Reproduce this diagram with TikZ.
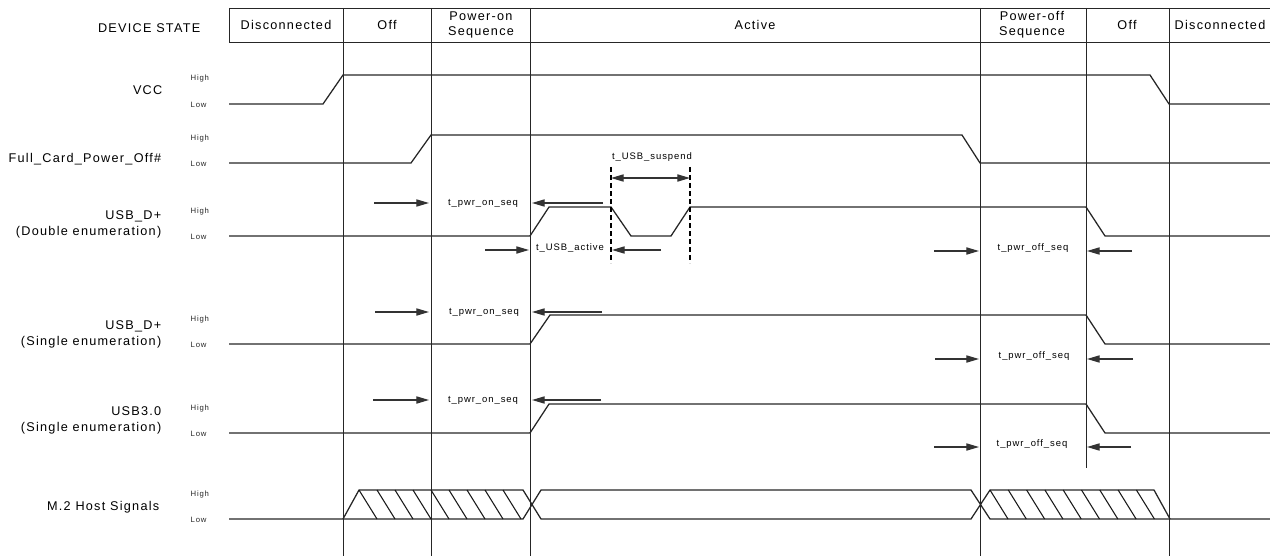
\documentclass[tikz,border=0pt]{standalone}
\usepackage{fontspec}
\setmainfont{Liberation Sans}[LetterSpace=10]
\usetikzlibrary{arrows.meta}

\tikzset{
  grid line/.style={line width=0.7pt, black!85},
  signal/.style={line width=0.95pt, black!85},
  hatch/.style={line width=0.8pt, black!90},
  timing/.style={line width=0.9pt, black!80, -{Triangle[length=9.5pt,width=5.4pt]}},
  both timing/.style={line width=0.9pt, black!80, {Triangle[length=9.5pt,width=5.4pt]}-{Triangle[length=9.5pt,width=5.4pt]}},
  limit/.style={line width=1.1pt, dash pattern=on 4pt off 2pt},
  state text/.style={font=\fontsize{9.5}{11.25}\selectfont, align=center},
  sig label/.style={font=\fontsize{9.5}{12}\selectfont, align=right, anchor=east},
  level/.style={font=\fontsize{5.8}{7}\selectfont, anchor=west, text=black!85},
  tlabel/.style={font=\fontsize{7.1}{8}\selectfont},
}

\begin{document}
\begin{tikzpicture}[x=0.75pt, y=-0.75pt]
    \useasboundingbox (0,0) rectangle (1270,556);

    % state header and boundaries
    \draw[grid line] (229,8) -- (1271,8);
    \draw[grid line] (229,42) -- (1271,42);
    \draw[grid line] (229,8) -- (229,42);
    \foreach \bx in {343,431,530,980,1169}
        \draw[grid line] (\bx,8) -- (\bx,556);
    \draw[grid line] (1086,8) -- (1086,468);

    \node[state text, anchor=east] (devstate) at (205,28) {DEVICE STATE};
    \node[state text] (disc1) at (286,25) {Disconnected};
    \node[state text] (off1) at (387,25) {Off};
    \node[state text] (pwron) at (481,25) {Power-on\\Sequence};
    \node[state text] (active) at (755,25) {Active};
    \node[state text] (pwroff) at (1032,25) {Power-off\\Sequence};
    \node[state text] (off2) at (1127,25) {Off};
    \node[state text] (disc2) at (1220,25) {Disconnected};

    % signal names
    \node[sig label] (vcc) at (167,90) {VCC};
    \node[sig label] (fcpo) at (166,159) {Full\_Card\_Power\_Off\#};
    \node[sig label] (usbdd) at (166,224) {USB\_D+\\(Double enumeration)};
    \node[sig label] (usbds) at (166,334) {USB\_D+\\(Single enumeration)};
    \node[sig label] (usb3) at (166,420) {USB3.0\\(Single enumeration)};
    \node[sig label] (m2) at (164,507) {M.2 Host Signals};

    % high / low marks
    \foreach \hy/\ly in {75/104,135/163,207/236,315/344,404/433,490/519} {
        \node[level] (hi-\hy) at (186,\hy+4) {High};
        \node[level] (lo-\ly) at (186,\ly+1) {Low};
    }

    % waveforms
    \draw[signal] (229,104) -- (323,104) -- (343,75) -- (1150,75) -- (1169,104) -- (1270,104);
    \draw[signal] (229,163) -- (411,163) -- (431,135) -- (962,135) -- (980,163) -- (1270,163);
    \draw[signal] (229,236) -- (530,236) -- (549,207) -- (611,207) -- (631,236) -- (671,236)
        -- (690,207) -- (1086,207) -- (1105,236) -- (1270,236);
    \draw[signal] (229,344) -- (530,344) -- (550,315) -- (1086,315) -- (1105,344) -- (1270,344);
    \draw[signal] (229,433) -- (530,433) -- (549,404) -- (1086,404) -- (1105,433) -- (1270,433);

    % M.2 host signals, hatched where undefined
    \draw[signal] (229,519) -- (343,519) -- (359,490) -- (523,490) -- (541,519) -- (971,519)
        -- (990,490) -- (1154,490) -- (1170,519) -- (1270,519);
    \draw[signal] (343,519) -- (523,519) -- (541,490) -- (971,490) -- (990,519) -- (1170,519);
    \foreach \hx in {359,377,...,503}
        \draw[hatch] (\hx,490) -- (\hx+18,519);
    \foreach \hx in {990,1008.3,...,1138}
        \draw[hatch] (\hx,490) -- (\hx+18,519);

    % suspend window
    \draw[limit] (611,167) -- (611,263);
    \draw[limit] (690,167) -- (690,263);
    \node[tlabel] (tsus) at (652,157) {t\_USB\_suspend};
    \draw[both timing] (611,178) -- (690,178);

    % timing arrows, double enumeration
    \node[tlabel] (ton1) at (483,203) {t\_pwr\_on\_seq};
    \draw[timing] (374,203) -- (429,203);
    \draw[timing] (603,203) -- (532,203);
    \node[tlabel] (tact) at (570,248) {t\_USB\_active};
    \draw[timing] (485,250) -- (529,250);
    \draw[timing] (661,250) -- (612,250);
    \node[tlabel] (toff1) at (1033,248) {t\_pwr\_off\_seq};
    \draw[timing] (934,251) -- (979,251);
    \draw[timing] (1132,251) -- (1087,251);

    % timing arrows, single enumeration
    \node[tlabel] (ton2) at (484,312) {t\_pwr\_on\_seq};
    \draw[timing] (375,312) -- (429,312);
    \draw[timing] (602,312) -- (532,312);
    \node[tlabel] (toff2) at (1034,356) {t\_pwr\_off\_seq};
    \draw[timing] (935,359) -- (979,359);
    \draw[timing] (1133,359) -- (1087,359);

    % timing arrows, USB3.0
    \node[tlabel] (ton3) at (483,400) {t\_pwr\_on\_seq};
    \draw[timing] (373,400) -- (429,400);
    \draw[timing] (601,400) -- (532,400);
    \node[tlabel] (toff3) at (1032,444) {t\_pwr\_off\_seq};
    \draw[timing] (934,447) -- (979,447);
    \draw[timing] (1131,447) -- (1087,447);
\end{tikzpicture}
\end{document}
